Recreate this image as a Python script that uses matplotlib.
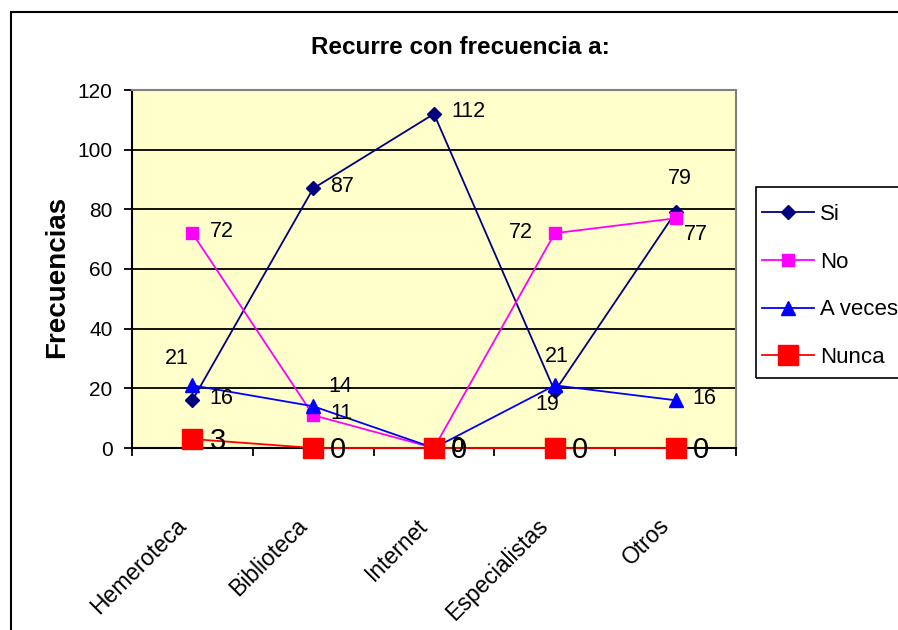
import numpy as np
import matplotlib.pyplot as plt
from matplotlib.patches import Rectangle

# Datos
categorias = ['Hemeroteca', 'Biblioteca', 'Internet', 'Especialistas', 'Otros']
si = [16, 87, 112, 19, 79]
no = [72, 11, 0, 72, 77]
a_veces = [21, 14, 0, 21, 16]
nunca = [3, 0, 0, 0, 0]

yticks = np.arange(0, 121, 20)

FUENTE = 'Liberation Sans'
PX = 0.72  # pixel -> punto (dpi 100)

series = [
    ('Si', si, '#000080', 'D', 7),
    ('No', no, '#FF00FF', 's', 9),
    ('A veces', a_veces, '#0000FF', '^', 9.5),
    ('Nunca', nunca, '#FF0000', 's', 14.5),
]

# posicion de las etiquetas (px): dx, dy (arriba +), alineacion
etiqueta_std = (17, 2, 'left')
etiqueta_esp = {
    ('Si', 3): (-8, -13, 'center'),
    ('Si', 4): (4, 34, 'center'),
    ('No', 3): (-22, 1, 'right'),
    ('No', 4): (8, -16, 'left'),
    ('A veces', 0): (-16, 27, 'center'),
    ('A veces', 1): (15, 20, 'left'),
    ('A veces', 3): (2, 29, 'center'),
}

fig = plt.figure(figsize=(8.98, 6.3), dpi=100)
ax = fig.add_axes([132 / 898, 1 - 448 / 630, 604 / 898, 358 / 630])
ax.set_facecolor('#FFFFCC')

x = np.arange(len(categorias))
for nombre, valores, color, marcador, tam in series:
    ax.plot(x, valores, color=color, marker=marcador, markersize=tam,
            linewidth=1.3, label=nombre, clip_on=False, zorder=3)
    for i, v in enumerate(valores):
        dx, dy, ha = etiqueta_esp.get((nombre, i), etiqueta_std)
        fs = 15.5
        if nombre == 'Nunca':
            dy = -2
            fs = 21
        ax.annotate(str(v), xy=(i, v), xytext=(dx * PX, dy * PX),
                    textcoords='offset points', ha=ha, va='center',
                    fontsize=fs, family=FUENTE, zorder=5,
                    annotation_clip=False)

ax.set_xlim(-0.5, len(categorias) - 0.5)
ax.set_ylim(0, 120)
ax.set_yticks(yticks)
ax.set_yticklabels([str(t) for t in yticks], family=FUENTE, fontsize=15)
ax.yaxis.grid(True, color='black', linewidth=1.3)
ax.set_axisbelow(True)

ax.set_xticks(np.arange(-0.5, len(categorias), 1))
ax.set_xticklabels([])
ax.tick_params(axis='both', direction='out', length=6, width=1.3, color='black')
ax.tick_params(axis='y', pad=8)

for i, c in enumerate(categorias):
    ax.annotate(c, xy=(i, 0), xycoords=('data', 'axes fraction'),
                xytext=(-10 * PX, -74 * PX), textcoords='offset points',
                rotation=45, rotation_mode='anchor', ha='right', va='center',
                fontsize=16.5, family=FUENTE, annotation_clip=False)

for lado in ['left', 'bottom']:
    ax.spines[lado].set_color('black')
    ax.spines[lado].set_linewidth(1.5)
for lado in ['top', 'right']:
    ax.spines[lado].set_color('#808080')
    ax.spines[lado].set_linewidth(1.5)

fig.text(460 / 898, 1 - 48 / 630, 'Recurre con frecuencia a:', ha='center',
         va='center', fontsize=17.5, fontweight='bold', family=FUENTE)
fig.text(57 / 898, 1 - 277 / 630, 'Frecuencias', ha='center', va='center',
         rotation=90, fontsize=20, fontweight='bold', family=FUENTE)

# leyenda sin marco propio; el marco se dibuja aparte
leg = fig.legend(loc='upper left', bbox_to_anchor=(762 / 898, 1 - 204 / 630),
                 prop={'family': FUENTE, 'size': 16}, frameon=False,
                 borderaxespad=0, borderpad=0, labelspacing=1.2,
                 handlelength=2.35, handletextpad=0.25)
fig.patches.append(Rectangle((756 / 898, 1 - 378 / 630), 0.3, 191 / 630,
                             transform=fig.transFigure, fill=False,
                             edgecolor='black', linewidth=1.2))

# marco exterior del grafico
fig.patches.append(Rectangle((10.5 / 898, -0.1), 1.2, (630 - 11.5) / 630 + 0.1,
                             transform=fig.transFigure, fill=False,
                             edgecolor='black', linewidth=1.5))

fig.savefig('out.png', dpi=100)
